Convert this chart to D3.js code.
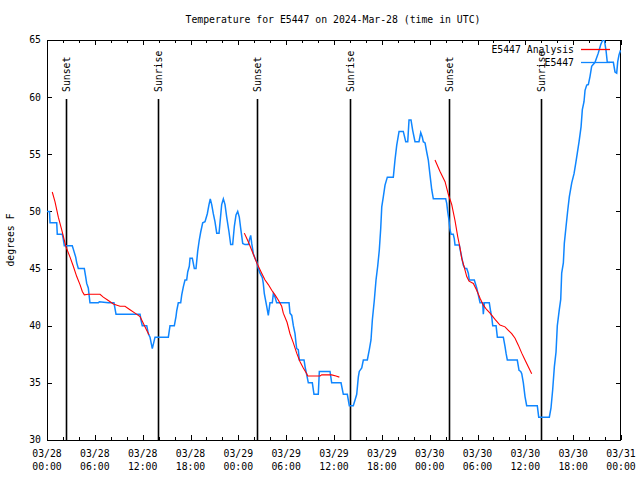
<!DOCTYPE html>
<html><head><meta charset="utf-8">
<script src="https://cdn.jsdelivr.net/npm/d3@7"></script>
<style>
html,body{margin:0;padding:0;background:#fff;}
svg text{font-family:"DejaVu Sans Mono","Liberation Mono",monospace;font-size:9.8px;fill:#000;}
</style></head>
<body><svg id="c" width="640" height="480"></svg>
<script>
// ---- data (hours since 2024-03-28 00:00 UTC, degrees F) ----
const titleText = "Temperature for E5447 on 2024-Mar-28 (time in UTC)";
const yLabel = "degrees F";
const yTicks = [30, 35, 40, 45, 50, 55, 60, 65];
const xTickHours = [0, 6, 12, 18, 24, 30, 36, 42, 48, 54, 60, 66, 72];
const xTickDates = ["03/28","03/28","03/28","03/28","03/29","03/29","03/29","03/29","03/30","03/30","03/30","03/30","03/31"];
const xTickTimes = ["00:00","06:00","12:00","18:00","00:00","06:00","12:00","18:00","00:00","06:00","12:00","18:00","00:00"];
const sunEvents = [
  {h: 2.38, label: "Sunset"}, {h: 13.97, label: "Sunrise"},
  {h: 26.40, label: "Sunset"}, {h: 38.02, label: "Sunrise"},
  {h: 50.45, label: "Sunset"}, {h: 62.0, label: "Sunrise"}
];
const obsHours = [0,0.31,0.38,1.22,1.29,1.92,2.04,2.17,3.17,3.30,3.60,3.73,3.93,4.68,4.85,4.98,5.18,5.39,6.44,6.56,7.69,8.40,8.66,11.67,11.79,11.95,12.51,12.71,12.92,13.21,13.55,15.22,15.43,15.97,16.18,16.27,16.47,16.77,16.90,17.10,17.31,17.52,17.65,17.85,17.94,18.23,18.48,18.69,18.90,19.10,19.28,19.53,19.82,20.11,20.32,20.48,20.66,20.86,21.07,21.29,21.58,21.70,21.91,22.12,22.33,22.54,22.83,23.04,23.29,23.50,23.71,23.92,24.12,24.30,24.55,24.84,25.25,25.38,25.55,25.68,25.88,26.09,26.31,26.51,26.72,27.01,27.13,27.26,27.56,27.76,27.97,28.26,28.39,28.60,28.81,30.36,30.48,30.70,30.90,31.11,31.23,31.32,31.52,31.65,32.24,32.40,32.58,32.78,33.28,33.49,34.03,34.16,35.50,35.71,36.88,37.17,37.67,37.92,38.42,38.64,38.85,39.05,39.17,39.48,39.68,40.18,40.43,40.64,40.81,41.06,41.27,41.48,41.68,41.86,41.99,42.19,42.40,42.69,43.44,43.65,43.87,44.16,44.69,45.00,45.25,45.41,45.66,45.87,46.16,46.66,46.88,47.08,47.20,47.42,47.63,47.83,48.04,48.26,48.46,50.01,50.14,50.26,50.42,50.55,50.68,50.96,51.09,51.18,51.72,51.81,52.02,52.22,52.43,52.65,52.85,52.97,53.60,53.90,54.10,54.32,54.65,54.73,54.86,55.48,55.66,55.78,55.91,56.33,56.49,57.24,57.45,57.58,57.74,58.99,59.21,59.42,59.55,59.75,59.96,60.17,61.50,61.68,63.01,63.22,63.43,63.64,63.85,64.01,64.26,64.44,64.56,64.77,64.89,65.11,65.32,65.52,65.82,66.11,66.32,66.52,66.74,66.99,67.15,67.36,67.49,67.70,67.90,68.11,68.32,68.74,69.15,69.46,69.71,69.91,70.12,70.28,71.04,71.25,71.46,71.59,71.75,71.94];
const obsTemps = [50,50,49,49,48,48,47.6,47,47,46.7,46,45.5,45,45,44.3,43.7,43.3,42,42,42.1,42,42,41,41,40.5,40,40,39.3,39,38,39,39,40,40,40.8,41.3,42,42,42.7,43.4,44,44,44.7,45.2,45.9,45.9,45,45,46.5,47.5,48.2,49,49.1,49.8,50.6,51.1,50.6,49.8,49.1,48.1,48.1,49,50.6,51.1,50.6,49.5,48.2,47.1,47.1,48.7,49.7,50,49.5,48.5,47.2,47.1,47.1,47.5,47.9,47.2,46.3,45.9,45.6,45,44.6,44.2,43.7,42.8,41.7,40.9,42,42,42.8,42.5,42,42,41.1,40.9,40,39.3,38.5,38,37.9,37,37,36.3,35.7,35,35,34,34,36,36,35,35,34,34,33,33,33.5,34,35.5,36,36.3,37,37,37.9,38.75,40.5,42.25,44,45.2,46.6,48.5,50.4,51.3,52.3,53,53,54.5,55.8,57,57,56.1,56.1,58,58,57.1,56.1,56.1,56.9,56.5,56.1,56,55.2,54.5,53.2,51.9,51.1,51.1,50.7,50,49.25,48.4,48,48,47.6,47.06,47.06,46.7,46,45.3,45,45,44.6,44,44,43.3,42.7,42,42,41,42,42,41.2,40.8,40,40,39,39,38.2,37.6,37,37,36.1,36,35.8,35,33.8,33,33,32,32,32.8,34.4,36.4,37.7,40,41.4,42.3,44.6,45.5,47.2,48.7,50.1,51.3,52.5,53.3,54.2,55.1,56.1,57.4,58.9,59.6,60.6,61.06,61.1,61.8,62.7,63.05,63.85,64.6,65,65,64.1,63.05,63.05,62.2,62.1,63.1,63.7,64.1];
const anaHours1 = [0.66,1.00,1.42,1.84,2.38,2.89,3.30,3.73,4.14,4.43,4.68,5.18,6.65,7.06,7.69,8.32,9.16,9.78,10.41,11.04,11.67,11.88,12.29,12.58,12.80];
const anaTemps1 = [51.7,50.85,49.5,48.4,46.9,46.0,45.2,44.3,43.6,43.0,42.7,42.75,42.75,42.5,42.2,41.9,41.7,41.7,41.4,41.1,40.8,40.5,39.9,39.5,39.2];
const anaHours2 = [24.75,25.05,25.34,25.68,25.97,26.31,26.51,26.93,27.35,27.76,28.19,28.60,29.01,29.44,29.64,30.11,30.48,30.90,31.32,31.74,32.15,32.58,32.70,34.25,34.46,35.71,36.25,36.67];
const anaTemps2 = [48.1,47.65,47.2,46.6,46.1,45.5,45.2,44.6,44.0,43.6,43.1,42.7,42.25,41.7,41.1,40.3,39.3,38.5,37.6,36.85,36.3,35.8,35.6,35.6,35.7,35.7,35.6,35.5];
const anaHours3 = [48.67,49.30,49.93,50.34,50.77,51.18,51.52,51.81,52.02,52.31,52.65,52.94,53.48,53.90,54.32,54.73,55.16,55.57,56.20,56.82,57.45,57.87,58.29,58.71,59.12,59.55,59.96,60.37,60.80];
const anaTemps3 = [54.5,53.5,52.6,51.5,50.6,49.2,47.8,46.8,45.9,45.2,44.3,43.9,43.7,43.1,42.4,41.8,41.4,41.1,40.55,40.06,39.9,39.6,39.3,38.9,38.3,37.6,37.0,36.4,35.8];
const legendNames = ["E5447 Analysis", "E5447"];
const colors = {analysis: "#ff0000", obs: "#0f86ff"};

// ---- layout ----
const svg = d3.select("#c");
const L = 47, R = 621, T = 40, B = 440;
const x = d3.scaleLinear().domain([0, 72]).range([L, R]);
const y = d3.scaleLinear().domain([30, 65]).range([B, T]);

svg.append("text").attr("x", 333).attr("y", 23).attr("text-anchor", "middle").text(titleText);

svg.append("defs").append("clipPath").attr("id", "clip")
  .append("rect").attr("x", L).attr("y", T).attr("width", R - L).attr("height", B - T);

// axes
const minorHours = d3.range(0, 73, 2);
const gB = svg.append("g").attr("transform", `translate(0,${B})`)
  .call(d3.axisBottom(x).tickValues(minorHours).tickSize(-3).tickFormat(""));
const gB2 = svg.append("g").attr("transform", `translate(0,${B})`)
  .call(d3.axisBottom(x).tickValues(xTickHours).tickSize(-5).tickFormat(""));
const gT = svg.append("g").attr("transform", `translate(0,${T})`)
  .call(d3.axisTop(x).tickValues(minorHours).tickSize(-3).tickFormat(""));
const gT2 = svg.append("g").attr("transform", `translate(0,${T})`)
  .call(d3.axisTop(x).tickValues(xTickHours).tickSize(-5).tickFormat(""));
const gL = svg.append("g").attr("transform", `translate(${L},0)`)
  .call(d3.axisLeft(y).tickValues(yTicks).tickSize(-5).tickFormat(""));
const gR = svg.append("g").attr("transform", `translate(${R},0)`)
  .call(d3.axisRight(y).tickValues(yTicks).tickSize(-5).tickFormat(""));
[gB, gB2, gT, gT2, gL, gR].forEach(g => {
  g.select(".domain").remove();
  g.selectAll("line").attr("stroke", "#000").attr("stroke-width", 1).attr("shape-rendering", "crispEdges");
});
svg.append("rect").attr("x", L + 0.5).attr("y", T + 0.5).attr("width", R - L - 1).attr("height", B - T)
  .attr("fill", "none").attr("stroke", "#000").attr("stroke-width", 1).attr("shape-rendering", "crispEdges");

// y tick labels
svg.append("g").selectAll("text").data(yTicks).join("text")
  .attr("x", 41).attr("y", d => y(d)).attr("dy", "0.35em").attr("text-anchor", "end").text(d => d);
// x tick labels
const xl = svg.append("g").selectAll("text").data(xTickHours).join("text")
  .attr("text-anchor", "middle");
xl.append("tspan").attr("x", d => x(d)).attr("y", 457).text((d, i) => xTickDates[i]);
xl.append("tspan").attr("x", d => x(d)).attr("y", 470).text((d, i) => xTickTimes[i]);

svg.append("text").attr("transform", "translate(14,240) rotate(-90)").attr("text-anchor", "middle").text(yLabel);

// sunrise / sunset
const se = svg.append("g").selectAll("g").data(sunEvents).join("g");
se.append("line").attr("x1", d => Math.round(x(d.h)) + 0.5).attr("x2", d => Math.round(x(d.h)) + 0.5)
  .attr("y1", 99).attr("y2", B).attr("stroke", "#000").attr("stroke-width", 1.6);
se.append("text").attr("transform", d => `translate(${x(d.h) + 0.5},92) rotate(-90)`)
  .attr("dy", "0.35em").attr("text-anchor", "start").text(d => d.label);

// series
const line = d3.line().x(d => x(d[0])).y(d => y(d[1]));
const plot = svg.append("g").attr("clip-path", "url(#clip)");
const obs = obsHours.map((h, i) => [h, obsTemps[i]]);
plot.append("path").attr("d", line(obs)).attr("fill", "none").attr("stroke", colors.obs).attr("stroke-width", 1.5);
[[anaHours1, anaTemps1], [anaHours2, anaTemps2], [anaHours3, anaTemps3]].forEach(([hs, ts]) => {
  plot.append("path").attr("d", line(hs.map((h, i) => [h, ts[i]])))
    .attr("fill", "none").attr("stroke", colors.analysis).attr("stroke-width", 1.1);
});

// legend
const lg = svg.append("g");
[[legendNames[0], colors.analysis, 49.5], [legendNames[1], colors.obs, 62.5]].forEach(([name, c, yy]) => {
  lg.append("text").attr("x", 574).attr("y", yy).attr("dy", "0.35em").attr("text-anchor", "end").text(name);
  lg.append("line").attr("x1", 581).attr("x2", 610).attr("y1", yy).attr("y2", yy)
    .attr("stroke", c).attr("stroke-width", 1.3);
});
</script></body></html>
